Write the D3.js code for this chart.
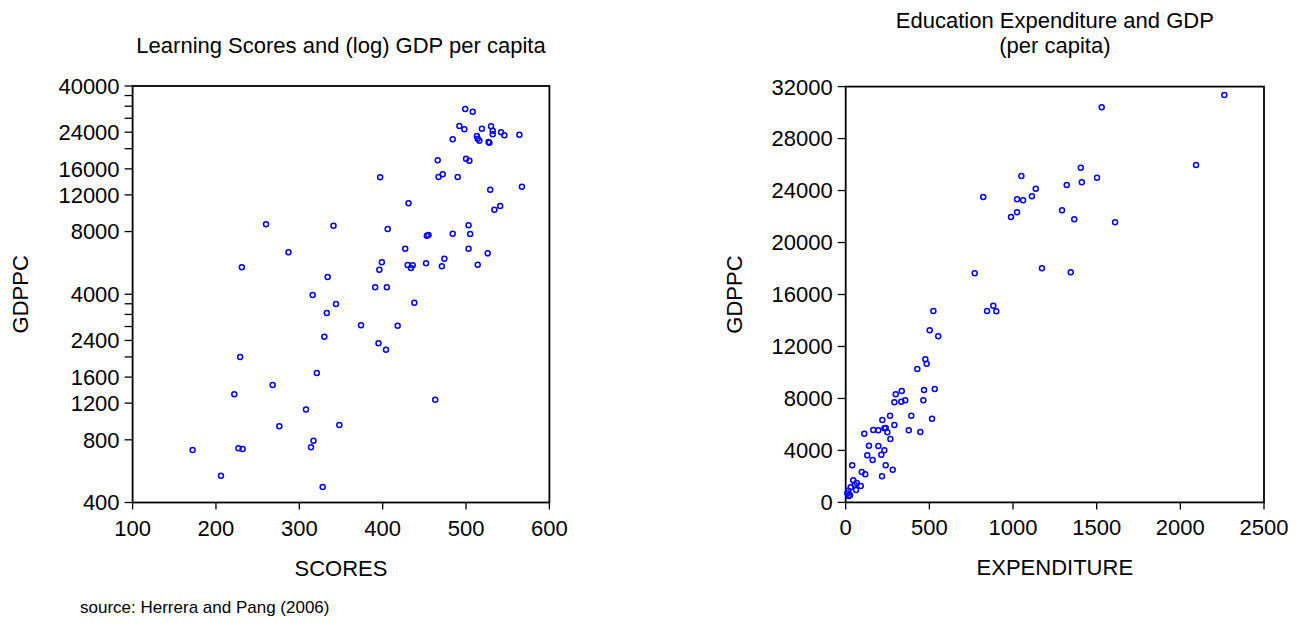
<!DOCTYPE html>
<html>
<head>
<meta charset="utf-8">
<script src="https://cdn.jsdelivr.net/npm/d3@7"></script>
<style>
  html, body { margin: 0; padding: 0; background: #fff; }
  svg { display: block; font-family: "Liberation Sans", Arial, sans-serif; }
</style>
</head>
<body>
<svg id="chart" width="1309" height="623"></svg>
<script>
// ---- Left panel: learning scores vs GDP per capita (log scale) ----
const scores = [499, 508, 492, 498, 519, 530, 532, 532, 542, 546, 564, 513, 514, 516, 527, 528, 484, 466, 500, 504,
  397, 467, 472, 490, 529, 567, 431, 541, 534, 260, 341, 406, 453, 455, 484, 503, 505, 287, 427, 503,
  526, 231, 399, 396, 430, 436, 434, 452, 474, 471, 514, 334, 391, 405, 316, 344, 438, 333, 374, 418,
  330, 395, 404, 229, 321, 268, 222, 463, 308, 276, 348, 317, 314, 172, 227, 232, 206, 328];
const gdppcScores = [31020, 30100, 25710, 24790, 24950, 25630, 24410, 23460, 23980, 23200, 23350, 23010, 22340, 21850, 21540, 21370, 22190, 17590, 17910, 17510,
  14580, 14620, 15070, 14620, 12710, 13140, 10940, 10620, 10190, 8670, 8540, 8230, 7640, 7700, 7815, 8570, 7790, 6360, 6620, 6620,
  6290, 5390, 5695, 5250, 5530, 5510, 5350, 5630, 5930, 5450, 5550, 4840, 4320, 4320, 3970, 3590, 3645, 3250, 2840, 2825,
  2500, 2325, 2165, 2000, 1675, 1465, 1325, 1245, 1120, 930, 942, 792, 736, 715, 728, 723, 538, 475];

// ---- Right panel: education expenditure vs GDP per capita ----
const expenditure = [2263, 1530, 2094, 1050, 1405, 1502, 1321, 1411, 1136, 1113, 822, 1024, 1060, 1024, 988, 1293, 1366, 1610, 771, 1173,
  1345, 882, 845, 900, 524, 502, 553, 476, 484, 428, 468, 532, 335, 299, 356, 332, 291, 464, 265, 392,
  219, 291, 516, 165, 195, 231, 239, 249, 111, 377, 446, 267, 139, 195, 231, 213, 129, 161, 39, 239,
  281, 96, 117, 217, 45, 66, 54, 90, 30, 62, 16, 10, 26, 18];
const gdppcExpenditure = [31350, 30410, 25970, 25120, 25760, 24990, 24430, 24640, 24140, 23560, 23500, 23330, 23250, 22330, 21960, 22480, 21790, 21560, 17630, 18020,
  17710, 15140, 14730, 14710, 14730, 13245, 12780, 11010, 10670, 10270, 8650, 8730, 8570, 8320, 7860, 7750, 7700, 7860, 6670, 6670,
  6340, 5960, 6440, 5570, 5550, 5700, 5730, 5400, 5290, 5550, 5420, 4880, 4360, 4340, 4010, 3670, 3625, 3260, 2855, 2855,
  2520, 2340, 2160, 2010, 1700, 1490, 1360, 1260, 1160, 950, 900, 700, 550, 490];

// ---- Axis ticks and labels ----
const scoreTicks = [100, 200, 300, 400, 500, 600];
const logTicks = [400, 800, 1200, 1600, 2000, 2400, 2800, 3200, 3600, 4000,
  8000, 12000, 16000, 20000, 24000, 28000, 32000, 36000, 40000];
const logTickLabels = [400, 800, 1200, 1600, 2400, 4000, 8000, 12000, 16000, 24000, 40000];
const expTicks = [0, 500, 1000, 1500, 2000, 2500];
const gdpTicks = [0, 4000, 8000, 12000, 16000, 20000, 24000, 28000, 32000];

const titles = {
  left: ["Learning Scores and (log) GDP per capita"],
  right: ["Education Expenditure and GDP", "(per capita)"]
};
const source = "source: Herrera and Pang (2006)";

const svg = d3.select("#chart");
const FONT = 22;
const TICK = 8;
const BLUE = "#0000ff";

function panel(cfg) {
  const g = svg.append("g");
  const [x0, x1] = cfg.x.range();
  const [yb, yt] = cfg.y.range();

  // Title
  cfg.title.forEach((t, i) => {
    g.append("text")
      .attr("x", (x0 + x1) / 2)
      .attr("y", cfg.titleY[i])
      .attr("text-anchor", "middle")
      .attr("font-size", FONT)
      .text(t);
  });

  // Left axis ticks
  g.selectAll(".yt").data(cfg.yTicks).join("line")
    .attr("x1", x0 - TICK).attr("x2", x0)
    .attr("y1", d => cfg.y(d)).attr("y2", d => cfg.y(d))
    .attr("stroke", "#000").attr("stroke-width", 1.3);
  g.selectAll(".yl").data(cfg.yLabels).join("text")
    .attr("x", x0 - TICK - 5)
    .attr("y", d => cfg.y(d))
    .attr("dy", "0.36em")
    .attr("text-anchor", "end")
    .attr("font-size", FONT)
    .text(d => d);

  // Bottom axis ticks
  g.selectAll(".xt").data(cfg.xTicks).join("line")
    .attr("x1", d => cfg.x(d)).attr("x2", d => cfg.x(d))
    .attr("y1", yb).attr("y2", yb + TICK - 1)
    .attr("stroke", "#000").attr("stroke-width", 1.3);
  g.selectAll(".xl").data(cfg.xTicks).join("text")
    .attr("x", d => cfg.x(d))
    .attr("y", yb + 33)
    .attr("text-anchor", "middle")
    .attr("font-size", FONT)
    .text(d => d);

  // Frame
  g.append("rect")
    .attr("x", x0).attr("y", yt)
    .attr("width", x1 - x0).attr("height", yb - yt)
    .attr("fill", "none").attr("stroke", "#000").attr("stroke-width", 1.8);

  // Points
  g.selectAll(".pt").data(cfg.xs.map((v, i) => [v, cfg.ys[i]])).join("circle")
    .attr("cx", d => cfg.x(d[0]))
    .attr("cy", d => cfg.y(d[1]))
    .attr("r", 2.5)
    .attr("fill", "none")
    .attr("stroke", BLUE)
    .attr("stroke-width", 1.5);

  // Axis titles
  g.append("text")
    .attr("x", (x0 + x1) / 2)
    .attr("y", yb + 73)
    .attr("text-anchor", "middle")
    .attr("font-size", FONT)
    .text(cfg.xTitle);
  g.append("text")
    .attr("transform", `translate(${cfg.yTitleX},${(yb + yt) / 2}) rotate(-90)`)
    .attr("text-anchor", "middle")
    .attr("font-size", FONT)
    .text(cfg.yTitle);
}

panel({
  x: d3.scaleLinear().domain([100, 600]).range([132.6, 549.4]),
  y: d3.scaleLog().domain([400, 40000]).range([502.5, 86]),
  xs: scores, ys: gdppcScores,
  xTicks: scoreTicks, yTicks: logTicks, yLabels: logTickLabels,
  title: titles.left, titleY: [53],
  xTitle: "SCORES", yTitle: "GDPPC", yTitleX: 28
});

panel({
  x: d3.scaleLinear().domain([0, 2500]).range([845.7, 1264]),
  y: d3.scaleLinear().domain([0, 32000]).range([502.4, 86.6]),
  xs: expenditure, ys: gdppcExpenditure,
  xTicks: expTicks, yTicks: gdpTicks, yLabels: gdpTicks,
  title: titles.right, titleY: [28, 53],
  xTitle: "EXPENDITURE", yTitle: "GDPPC", yTitleX: 742
});

svg.append("text")
  .attr("x", 80).attr("y", 613)
  .attr("font-size", 17)
  .text(source);
</script>
</body>
</html>
